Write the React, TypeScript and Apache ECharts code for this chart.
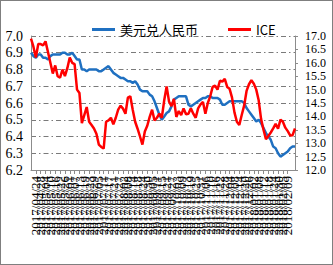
import React, { useEffect, useRef } from "react";
import * as echarts from "echarts";

const dates: string[] = [
  "2017/04/18","2017/04/20","2017/04/24","2017/04/26","2017/04/28",
  "2017/05/02","2017/05/04","2017/05/08","2017/05/10","2017/05/12","2017/05/16","2017/05/18","2017/05/22","2017/05/24","2017/05/26","2017/05/30",
  "2017/06/01","2017/06/05","2017/06/07","2017/06/09","2017/06/13","2017/06/15","2017/06/19","2017/06/21","2017/06/23","2017/06/27","2017/06/29",
  "2017/07/03","2017/07/05","2017/07/07","2017/07/11","2017/07/13","2017/07/17","2017/07/19","2017/07/21","2017/07/25","2017/07/27","2017/07/31",
  "2017/08/02","2017/08/04","2017/08/08","2017/08/10","2017/08/14","2017/08/16","2017/08/18","2017/08/22","2017/08/24","2017/08/28","2017/08/30",
  "2017/09/01","2017/09/05","2017/09/07","2017/09/11","2017/09/13","2017/09/15","2017/09/19","2017/09/21","2017/09/25","2017/09/27","2017/09/29",
  "2017/10/03","2017/10/05","2017/10/09","2017/10/11","2017/10/13","2017/10/17","2017/10/19","2017/10/23","2017/10/25","2017/10/27","2017/10/31",
  "2017/11/02","2017/11/06","2017/11/08","2017/11/10","2017/11/14","2017/11/16","2017/11/20","2017/11/22","2017/11/24","2017/11/28","2017/11/30",
  "2017/12/04","2017/12/06","2017/12/08","2017/12/12","2017/12/14","2017/12/18","2017/12/20","2017/12/22","2017/12/26","2017/12/28",
  "2018/01/02","2018/01/04","2018/01/08","2018/01/10","2018/01/12","2018/01/16","2018/01/18","2018/01/22","2018/01/24","2018/01/26","2018/01/30",
  "2018/02/01","2018/02/05","2018/02/07","2018/02/09","2018/02/13","2018/02/15","2018/02/19",
];

const usdCny: number[] = [
  6.90, 6.88, 6.87, 6.89, 6.89, 6.87, 6.87, 6.86, 6.88, 6.89,
  6.89, 6.89, 6.89, 6.90, 6.90, 6.89, 6.89, 6.90, 6.88, 6.86,
  6.86, 6.80, 6.80, 6.79, 6.80, 6.80, 6.80, 6.80, 6.79, 6.79,
  6.80, 6.81, 6.82, 6.80, 6.78, 6.77, 6.76, 6.75, 6.75, 6.74,
  6.73, 6.73, 6.72, 6.73, 6.71, 6.68, 6.67, 6.67, 6.67, 6.65,
  6.64, 6.61, 6.57, 6.53, 6.50, 6.52, 6.54, 6.55, 6.58, 6.62,
  6.63, 6.64, 6.64, 6.64, 6.64, 6.59, 6.58, 6.59, 6.60, 6.61,
  6.62, 6.63, 6.63, 6.64, 6.64, 6.63, 6.63, 6.63, 6.62, 6.59,
  6.59, 6.60, 6.61, 6.61, 6.61, 6.61, 6.61, 6.61, 6.60, 6.57,
  6.55, 6.53, 6.51, 6.49, 6.50, 6.48, 6.45, 6.42, 6.40, 6.38,
  6.34, 6.33, 6.30, 6.28, 6.29, 6.30, 6.31, 6.33, 6.34, 6.34,
];

const ice: number[] = [
  16.90, 16.60, 16.20, 16.70, 16.70, 16.65, 16.80, 16.40, 16.00, 15.60,
  15.90, 15.50, 15.45, 15.75, 15.50, 15.80, 16.20, 16.00, 15.95, 15.00,
  14.87, 13.75, 14.05, 14.35, 13.80, 13.68, 13.55, 13.35, 12.95, 12.86,
  12.80, 13.80, 13.85, 13.95, 13.70, 13.95, 14.25, 14.40, 14.29, 14.10,
  14.70, 14.75, 14.25, 13.80, 13.54, 13.25, 12.95, 13.44, 13.65, 13.98,
  14.25, 13.85, 13.95, 14.10, 13.95, 14.60, 15.12, 14.55, 14.38, 14.65,
  13.98, 14.20, 14.05, 14.30, 14.08, 14.10, 14.30, 14.10, 13.95, 14.30,
  14.45, 14.54, 14.10, 14.50, 14.75, 15.10, 15.15, 15.00, 15.33, 15.30,
  15.40, 15.10, 15.03, 14.70, 14.15, 13.80, 13.68, 14.05, 14.40, 14.95,
  15.20, 15.35, 15.22, 15.00, 14.60, 13.90, 13.50, 13.15, 13.27, 13.40,
  13.55, 13.72, 13.54, 13.88, 13.80, 13.58, 13.45, 13.29, 13.30, 13.55,
];

const seriesNames = ["美元兑人民币", "ICE"];

export default function App() {
  const ref = useRef<HTMLDivElement>(null);
  useEffect(() => {
    if (!ref.current) return;
    const chart = echarts.init(ref.current, null, { renderer: "svg" });
    const grey = "#8c8c8c";
    const num = "Liberation Serif";
    chart.setOption({
      animation: false,
      backgroundColor: "#ffffff",
      legend: {
        left: 87,
        top: 18,
        icon: "rect",
        itemWidth: 23,
        itemHeight: 3,
        itemGap: 30,
        textStyle: { fontSize: 13, color: "#000", fontFamily: "Noto Sans CJK SC" },
        data: seriesNames,
      },
      grid: { left: 31, right: 38, top: 36, bottom: 95, containLabel: false },
      xAxis: {
        type: "category",
        data: dates,
        boundaryGap: false,
        axisLine: { lineStyle: { color: grey, width: 1 } },
        axisTick: { show: true, interval: 1, length: 4, lineStyle: { color: grey } },
        axisLabel: {
          interval: 1,
          rotate: 90,
          fontSize: 13,
          fontFamily: num,
          color: "#000",
          margin: 6,
          hideOverlap: false,
        },
        splitLine: { show: false },
      },
      yAxis: [
        {
          type: "value",
          min: 6.2,
          max: 7.0,
          interval: 0.1,
          axisLine: { show: true, lineStyle: { color: grey } },
          axisTick: { show: false },
          axisLabel: {
            formatter: (v: number) => v.toFixed(1),
            fontSize: 14,
            fontFamily: num,
            color: "#000",
            margin: 8,
            showMinLabel: true,
            showMaxLabel: true,
            hideOverlap: false,
          },
          splitLine: {
            show: true,
            lineStyle: { color: "#7a7a7a", width: 1, type: [5, 3, 1.5, 3] },
          },
        },
        {
          type: "value",
          min: 12,
          max: 17,
          interval: 0.5,
          position: "right",
          axisLine: { show: true, lineStyle: { color: grey } },
          axisTick: { show: true, length: 3, lineStyle: { color: grey } },
          axisLabel: {
            formatter: (v: number) => v.toFixed(1),
            fontSize: 12,
            lineHeight: 12,
            fontFamily: num,
            color: "#000",
            margin: 10,
            showMinLabel: true,
            showMaxLabel: true,
            hideOverlap: false,
          },
          splitLine: { show: false },
        },
      ],
      series: [
        {
          name: seriesNames[0],
          type: "line",
          data: usdCny,
          yAxisIndex: 0,
          symbol: "none",
          itemStyle: { color: "#1f70c1" },
          lineStyle: { color: "#1f70c1", width: 2.5 },
          z: 2,
        },
        {
          name: seriesNames[1],
          type: "line",
          data: ice,
          yAxisIndex: 1,
          symbol: "none",
          itemStyle: { color: "#ff0000" },
          lineStyle: { color: "#ff0000", width: 2.5 },
          z: 3,
        },
      ],
    });
    return () => chart.dispose();
  }, []);
  return (
    <div
      style={{
        position: "fixed",
        left: 0,
        top: 0,
        width: 333,
        height: 265,
        background: "#fff",
      }}
    >
      <div ref={ref} style={{ width: 333, height: 265 }} />
      <div
        style={{
          position: "absolute",
          left: 0,
          top: 0,
          width: 333,
          height: 265,
          boxSizing: "border-box",
          border: "1px solid #7f7f7f",
          pointerEvents: "none",
        }}
      />
    </div>
  );
}
